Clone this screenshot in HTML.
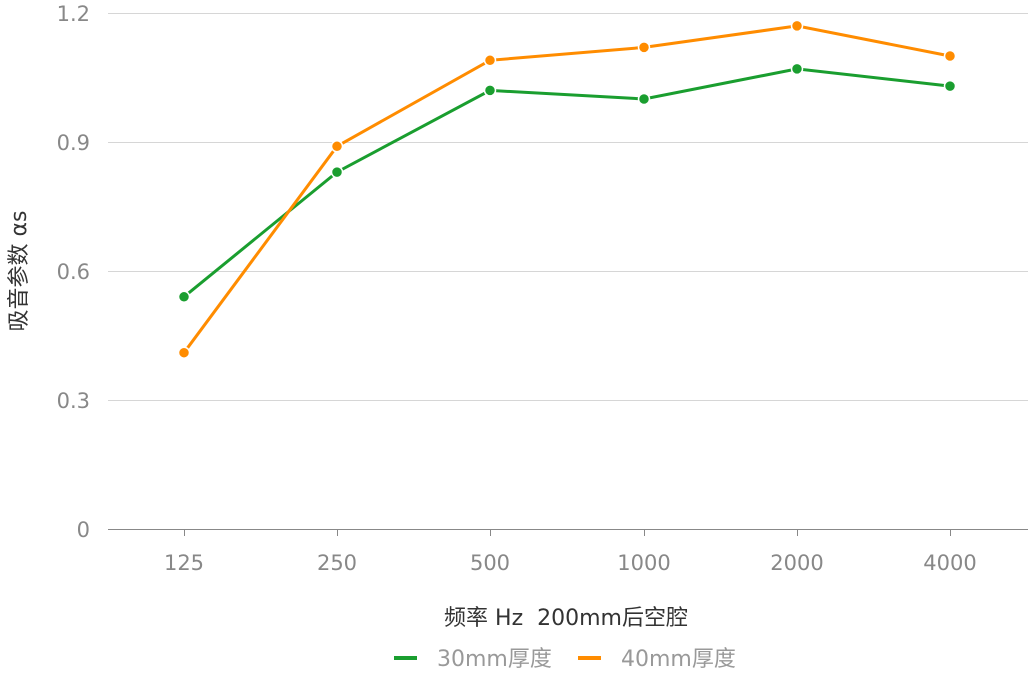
<!DOCTYPE html>
<html><head><meta charset="utf-8"><style>
body{margin:0;background:#fff;}
svg text{font-family:"DejaVu Sans","Noto Sans CJK SC",sans-serif;}
</style></head><body>
<svg width="1030" height="676" xmlns="http://www.w3.org/2000/svg">
<g stroke="#d6d6d6" stroke-width="1">
<line x1="108" x2="1028" y1="13.5" y2="13.5"/>
<line x1="108" x2="1028" y1="142.5" y2="142.5"/>
<line x1="108" x2="1028" y1="271.5" y2="271.5"/>
<line x1="108" x2="1028" y1="400.5" y2="400.5"/>
</g>
<line x1="108" x2="1028" y1="529.5" y2="529.5" stroke="#888"/>
<g stroke="#888"><line x1="184.5" x2="184.5" y1="529" y2="536"/><line x1="337.5" x2="337.5" y1="529" y2="536"/><line x1="490.5" x2="490.5" y1="529" y2="536"/><line x1="644.5" x2="644.5" y1="529" y2="536"/><line x1="797.5" x2="797.5" y1="529" y2="536"/><line x1="950.5" x2="950.5" y1="529" y2="536"/></g>
<g fill="#888" font-size="21" text-anchor="end">
<text x="90" y="21">1.2</text><text x="90" y="150">0.9</text><text x="90" y="279">0.6</text><text x="90" y="408">0.3</text><text x="90" y="537">0</text>
</g>
<g fill="#888" font-size="21" text-anchor="middle">
<text x="184" y="570">125</text><text x="337" y="570">250</text><text x="490" y="570">500</text><text x="644" y="570">1000</text><text x="797" y="570">2000</text><text x="950" y="570">4000</text>
</g>
<text x="566" y="625" font-size="22" fill="#333" text-anchor="middle">频率 Hz&#160; 200mm后空腔</text>
<text transform="translate(26,271) rotate(-90)" font-size="22" fill="#333" text-anchor="middle">吸音参数 αs</text>
<polyline fill="none" stroke="#1a9e2f" stroke-width="3" points="184,296.8 337,172.1 490,90.4 644,99 797,68.9 950,86.1"/>
<polyline fill="none" stroke="#ff8c00" stroke-width="3" points="184,352.7 337,146.3 490,60.3 644,47.4 797,25.9 950,56"/>
<g fill="#1a9e2f" stroke="#fff" stroke-width="1.5"><circle cx="184" cy="296.8" r="5.5"/><circle cx="337" cy="172.1" r="5.5"/><circle cx="490" cy="90.4" r="5.5"/><circle cx="644" cy="99" r="5.5"/><circle cx="797" cy="68.9" r="5.5"/><circle cx="950" cy="86.1" r="5.5"/></g>
<g fill="#ff8c00" stroke="#fff" stroke-width="1.5"><circle cx="184" cy="352.7" r="5.5"/><circle cx="337" cy="146.3" r="5.5"/><circle cx="490" cy="60.3" r="5.5"/><circle cx="644" cy="47.4" r="5.5"/><circle cx="797" cy="25.9" r="5.5"/><circle cx="950" cy="56" r="5.5"/></g>
<line x1="394" x2="417" y1="658" y2="658" stroke="#1a9e2f" stroke-width="4"/>
<text x="437" y="666" font-size="22" fill="#999">30mm厚度</text>
<line x1="578" x2="601" y1="658" y2="658" stroke="#ff8c00" stroke-width="4"/>
<text x="621" y="666" font-size="22" fill="#999">40mm厚度</text>
</svg>
</body></html>
